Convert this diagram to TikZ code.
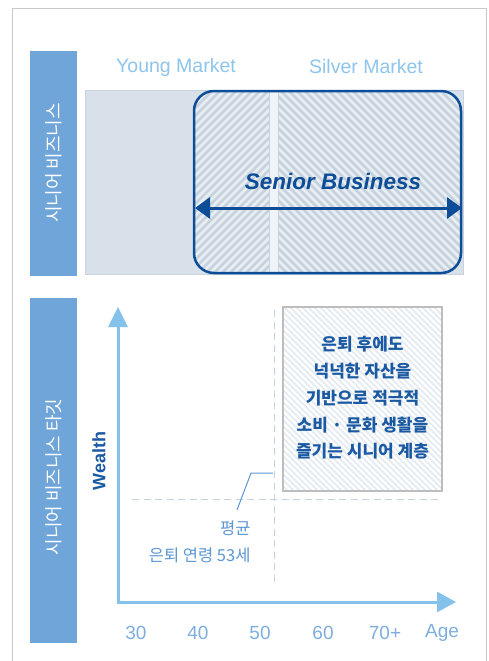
\documentclass[tikz,border=0pt]{standalone}
\usepackage{fontspec}
\setmainfont{Liberation Sans}
\newfontfamily\kr{Noto Sans CJK KR}
\usetikzlibrary{arrows.meta}
\definecolor{barblue}{HTML}{6FA5D8}
\definecolor{framegray}{HTML}{C8C8C8}
\definecolor{skyblue}{HTML}{8EC5EC}
\definecolor{axisblue}{HTML}{85C2EB}
\definecolor{darkblue}{HTML}{0D4C96}
\definecolor{textblue}{HTML}{1B5AA3}
\definecolor{midblue}{HTML}{5C97D3}
\definecolor{ticklabel}{HTML}{7EAEDF}
\definecolor{grayfill}{HTML}{D8E1EA}
\definecolor{grayedge}{HTML}{C7D2DD}
\definecolor{hatchbg}{HTML}{E9EEF3}
\definecolor{hatchline}{HTML}{C6D2DE}
\definecolor{dashcol}{HTML}{C5D3E0}
\definecolor{boxedge}{HTML}{BDBDBD}
\definecolor{faint}{HTML}{E3EAF1}
\tikzset{
  barlabel/.style={rotate=90, text=white, font=\kr\fontsize{18}{20}\selectfont},
  market/.style={text=skyblue, font=\fontsize{19.5}{22}\selectfont},
  hatchA/.style={hatchline, line width=2.8pt},
  axisline/.style={axisblue, line width=3pt},
  dashln/.style={dashcol, line width=1pt, dash pattern=on 7pt off 4.5pt},
  ticklbl/.style={text=ticklabel, font=\fontsize{19}{22}\selectfont},
}
\begin{document}
\begin{tikzpicture}[x=1pt,y=-1pt]
\useasboundingbox (0,0) rectangle (489,661);
\fill[white] (0,0) rectangle (489,661);
\draw[framegray, line width=1pt] (12,661) -- (12,9) -- (486,9) -- (486,661);

% side bars
\fill[barblue] (30,51) rectangle (77,276);
\node[barlabel] (lab1) at (53.5,163) {시니어 비즈니스};
\fill[barblue] (30,298) rectangle (77,643);
\node[barlabel] (lab2) at (53.5,477) {시니어 비즈니스 타깃};

% market titles
\node[market] (young) at (176,67) {Young Market};
\node[market] (silver) at (366,67) {Silver Market};

% gray market band
\draw[fill=grayfill, draw=grayedge, line width=1pt] (85,90) rectangle (463,274);

% senior business area
\fill[hatchbg, rounded corners=20pt] (194,91) rectangle (461,273);
\begin{scope}
  \clip[rounded corners=20pt] (194,91) rectangle (461,273);
  \begin{scope}
    \clip (190,80) rectangle (269,285);
    \foreach \i in {-30,...,12} \draw[hatchA] (194+\i*8,285) -- ++(200,-200);
  \end{scope}
  \begin{scope}
    \clip (278,80) rectangle (470,285);
    \foreach \i in {-30,...,30} \draw[hatchA] (278+\i*8,80) -- ++(200,200);
  \end{scope}
  \fill[hatchbg!70!white] (269,80) rectangle (278,285);
  \draw[grayedge, line width=0.8pt] (269,80) -- (269,285) (278,80) -- (278,285);
\end{scope}
\draw[darkblue, line width=2.5pt, rounded corners=20pt] (194,91) rectangle (461,273);
\node[text=darkblue, font=\itshape\bfseries\fontsize{22.5}{26}\selectfont] (senior) at (333,181) {Senior Business};
\coordinate (aL) at (195,208);
\coordinate (aR) at (462,208);
\draw[darkblue, line width=3pt, {Triangle[length=15pt,width=21pt]}-{Triangle[length=15pt,width=21pt]}] (aL) -- (aR);

% chart
\coordinate (O) at (118,602);
\coordinate (Ytip) at (118,307);
\coordinate (Xtip) at (456,602);
\draw[axisline, -{Triangle[length=20pt,width=19pt]}] (118,603.5) -- (Ytip);
\draw[axisline, -{Triangle[length=19pt,width=20pt]}] (116.5,602) -- (Xtip);
\node[rotate=90, text=textblue, font=\bfseries\fontsize{18}{20}\selectfont] (wealth) at (99,461) {Wealth};

\coordinate (v1) at (274,310);
\coordinate (v2) at (274,585);
\coordinate (h1) at (132,499);
\coordinate (h2) at (442,499);
\draw[dashln] (v1) -- (v2);
\draw[dashln] (h1) -- (h2);

% target box
\fill[white] (283,307) rectangle (442,491);
\begin{scope}
  \clip (283,307) rectangle (442,491);
  \foreach \i in {-40,...,30} \draw[faint, line width=1.6pt] (283+\i*6,300) -- ++(200,200);
\end{scope}
\draw[boxedge, line width=2pt] (283,307) rectangle (442,491);
\node[text=textblue, align=center, font=\kr\bfseries\fontsize{17}{26.7}\selectfont] (desc) at (362.5,398)
  {은퇴 후에도\\넉넉한 자산을\\기반으로 적극적\\소비 · 문화 생활을\\즐기는 시니어 계층};

% leader and average age
\node[text=midblue, align=right, anchor=east, font=\kr\fontsize{16.5}{27.5}\selectfont] (avg) at (254,542) {평균\\은퇴 연령 53세};
\coordinate (ld1) at (273,473);
\coordinate (ld2) at (251,473);
\coordinate (ld3) at (237,510);
\draw[midblue, line width=1pt] (ld1) -- (ld2) -- (ld3);

% tick labels
\node[ticklbl] (t30) at (136,633) {30};
\node[ticklbl] (t40) at (198,633) {40};
\node[ticklbl] (t50) at (260,633) {50};
\node[ticklbl] (t60) at (323,633) {60};
\node[ticklbl] (t70) at (385,633) {70+};
\node[ticklbl] (tage) at (442,633) {Age};
\end{tikzpicture}
\end{document}
